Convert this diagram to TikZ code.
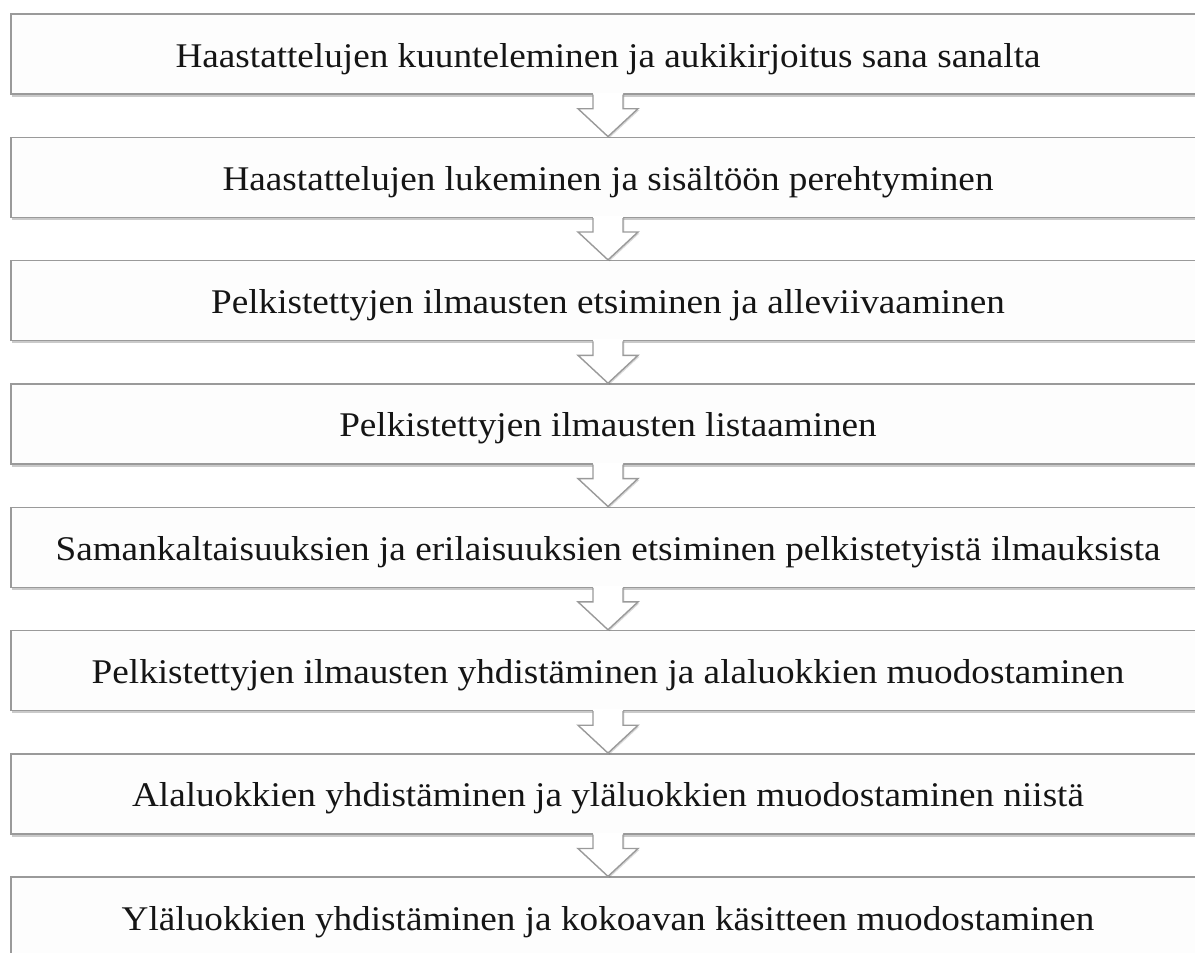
\documentclass[tikz,border=0pt]{standalone}
\usepackage{fontspec}
\setmainfont{Liberation Serif}[FakeStretch=1.075]
\usepackage{tikz}
\usetikzlibrary{positioning, calc, shadows}
\definecolor{boxline}{HTML}{9A9A9A}
\definecolor{boxfill}{HTML}{FDFDFD}
\definecolor{boxtext}{HTML}{151515}
\tikzset{
  stage/.style={rectangle, minimum width=23.88cm, minimum height=1.6cm, text centered, draw=boxline, line width=0.8pt, fill=boxfill,
                text=boxtext, font=\fontsize{19.7}{24}\selectfont, text height=0.6cm, text depth=0.08cm,
                drop shadow={shadow xshift=0.3pt, shadow yshift=-1.6pt, opacity=0.35, fill=black!60}},
  arrowline/.style={draw=boxline, line width=0.8pt, line join=miter}
}
% lohkonuoli laatikosta toiseen
\newcommand{\flowarrow}[2]{%
  \fill[white, drop shadow={shadow xshift=0.8pt, shadow yshift=-0.8pt, opacity=0.25, fill=black!60}]
    ($(#1.south)+(-0.3,0.04)$) -- ($(#1.south)+(-0.3,-0.28)$) -- ($(#1.south)+(-0.6,-0.28)$) -- (#2.north)
    -- ($(#1.south)+(0.6,-0.28)$) -- ($(#1.south)+(0.3,-0.28)$) -- ($(#1.south)+(0.3,0.04)$) -- cycle;
  \fill[white] ($(#1.south)+(-0.3,0.04)$) rectangle ($(#1.south)+(0.3,-0.1)$);
  \draw[arrowline] ($(#1.south)+(-0.3,0)$) -- ($(#1.south)+(-0.3,-0.28)$) -- ($(#1.south)+(-0.6,-0.28)$) -- (#2.north)
    -- ($(#1.south)+(0.6,-0.28)$) -- ($(#1.south)+(0.3,-0.28)$) -- ($(#1.south)+(0.3,0)$);
}

\begin{document}
\begin{tikzpicture}[node distance=2.466cm]

  \clip (0,0) rectangle (23.9,-19.04);

  \node (listen) [stage] at (12.16,-1.08) {Haastattelujen kuunteleminen ja aukikirjoitus sana sanalta};
  \node (read) [stage, below of=listen] {Haastattelujen lukeminen ja sisältöön perehtyminen};
  \node (search) [stage, below of=read] {Pelkistettyjen ilmausten etsiminen ja alleviivaaminen};
  \node (list) [stage, below of=search] {Pelkistettyjen ilmausten listaaminen};
  \node (compare) [stage, below of=list] {Samankaltaisuuksien ja erilaisuuksien etsiminen pelkistetyistä ilmauksista};
  \node (subcat) [stage, below of=compare] {Pelkistettyjen ilmausten yhdistäminen ja alaluokkien muodostaminen};
  \node (topcat) [stage, below of=subcat] {Alaluokkien yhdistäminen ja yläluokkien muodostaminen niistä};
  \node (main) [stage, below of=topcat] {Yläluokkien yhdistäminen ja kokoavan käsitteen muodostaminen};

  \flowarrow{listen}{read}
  \flowarrow{read}{search}
  \flowarrow{search}{list}
  \flowarrow{list}{compare}
  \flowarrow{compare}{subcat}
  \flowarrow{subcat}{topcat}
  \flowarrow{topcat}{main}

\end{tikzpicture}
\end{document}
